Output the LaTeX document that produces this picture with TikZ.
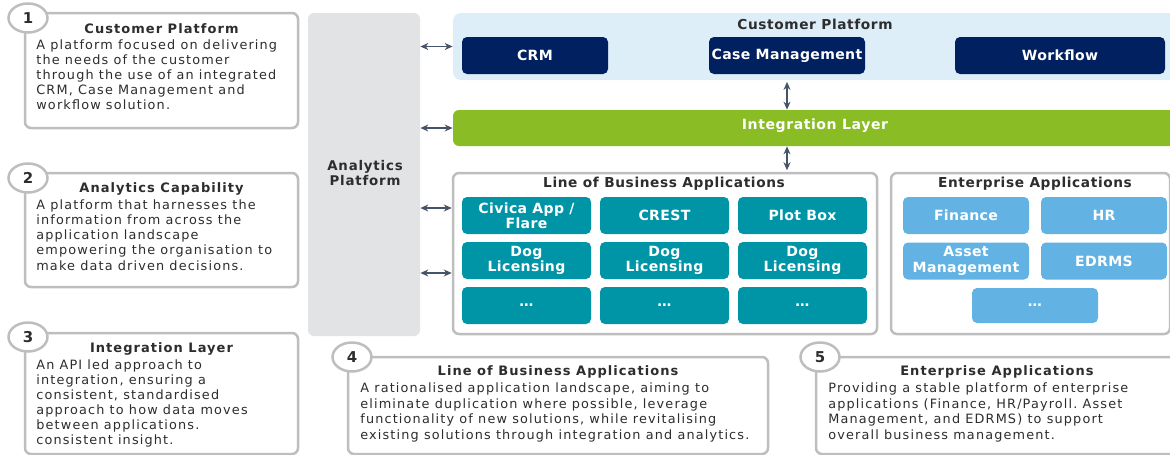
\documentclass[tikz,border=0pt]{standalone}
\usepackage{fontspec}
\setmainfont{DejaVu Sans}
\usetikzlibrary{shapes.geometric,arrows.meta}

\definecolor{navybox}{RGB}{0,32,96}
\definecolor{greenbar}{RGB}{138,188,38}
\definecolor{tealbox}{RGB}{0,149,166}
\definecolor{skybox}{RGB}{98,179,227}
\definecolor{custbg}{RGB}{221,238,249}
\definecolor{anagray}{RGB}{226,227,229}
\definecolor{framegray}{RGB}{190,190,190}
\definecolor{arrowgray}{RGB}{70,84,106}
\definecolor{textdark}{RGB}{45,45,45}

\newcommand\pxl{0.2mm}
\newcommand\spaced[1]{\addfontfeature{LetterSpace=#1}}

\begin{document}
\begin{tikzpicture}[
	x=0.2mm, y=-0.2mm,
	frame/.style={draw=framegray, line width=0.5mm, rounded corners=1.2mm, fill=white},
	numcirc/.style={ellipse, draw=framegray, line width=0.5mm, fill=white, minimum width=7.8mm, minimum height=5.8mm, inner sep=0pt, font=\fontsize{8.5}{10}\selectfont\bfseries, text=textdark},
	desctitle/.style={font=\fontsize{7.4}{8.5}\selectfont\bfseries\spaced{8}, text=textdark, inner sep=0pt},
	descbody/.style={font=\fontsize{7.3}{8.6}\selectfont\spaced{9}, text=textdark, align=left, inner sep=0pt, anchor=north west},
	apptitle/.style={font=\fontsize{7.8}{8.5}\selectfont\bfseries\spaced{4.5}, text=textdark, inner sep=0pt},
	appbody/.style={descbody, font=\fontsize{7.3}{8.9}\selectfont\spaced{9}},
	app/.style={rounded corners=1mm, minimum width=#1*\pxl, minimum height=37*\pxl, inner sep=0pt, align=center, text=white, font=\fontsize{8}{8.8}\selectfont\bfseries\spaced{2.5}},
	biarrow/.style={{Stealth[length=1.6mm,width=1.4mm]}-{Stealth[length=1.6mm,width=1.4mm]}, draw=arrowgray, line width=0.3mm}
	]
	\clip (0,0) rectangle (1170,455);
	
	% Analytics platform
	\node[fill=anagray, rounded corners=1.2mm, minimum width=112*\pxl, minimum height=323*\pxl, inner sep=0pt] (ana) at (364,174.5) {};
	\node[font=\fontsize{7.6}{9}\selectfont\bfseries\spaced{6}, text=textdark, align=center] (analbl) at (365,173) {Analytics\\Platform};
	
	% Customer platform
	\node[fill=custbg, rounded corners=1.6mm, minimum width=740*\pxl, minimum height=67*\pxl, inner sep=0pt] (cust) at (823,46.5) {};
	\node[apptitle] (custlbl) at (815,24) {Customer Platform};
	\node[app=146, fill=navybox] (crm) at (535,55.5) {CRM};
	\node[app=156, fill=navybox] (case) at (787,55.5) {Case Management};
	\node[app=210, fill=navybox] (wflow) at (1060,55.5) {Workflow};
	
	% Integration layer
	\node[fill=greenbar, rounded corners=1.2mm, minimum width=740*\pxl, minimum height=36*\pxl, inner sep=0pt] (integ) at (823,128) {};
	\node[text=white, font=\fontsize{8}{9}\selectfont\bfseries\spaced{4}] (integlbl) at (815,126) {Integration Layer};
	
	% Line of business applications
	\node[frame, minimum width=424*\pxl, minimum height=161*\pxl, inner sep=0pt] (lob) at (665,253.5) {};
	\node[apptitle] (loblbl) at (664,184) {Line of Business Applications};
	\foreach \lbl [count=\i] in {{Civica App /\\Flare}, CREST, Plot Box, {Dog\\Licensing}, {Dog\\Licensing}, {Dog\\Licensing}, \ldots, \ldots, \ldots} {
		\pgfmathsetmacro\cx{526.5 + 138*mod(\i-1,3)}
		\pgfmathsetmacro\cy{215.5 + 45*int((\i-1)/3)}
		\node[app=129, fill=tealbox] (lob\i) at (\cx,\cy) {\lbl};
	}
	
	% Enterprise applications
	\node[frame, minimum width=279*\pxl, minimum height=161*\pxl, inner sep=0pt] (ent) at (1030.5,253.5) {};
	\node[apptitle] (entlbl) at (1035,184) {Enterprise Applications};
	\node[app=126, fill=skybox] (ent1) at (966,215.5) {Finance};
	\node[app=126, fill=skybox] (ent2) at (1104,215.5) {HR};
	\node[app=126, fill=skybox] (ent3) at (966,261) {Asset\\Management};
	\node[app=126, fill=skybox] (ent4) at (1104,261) {EDRMS};
	\node[app=126, fill=skybox, minimum height=35*\pxl] (ent5) at (1035,305.5) {\ldots};
	
	% Connectors
	\draw[biarrow] (ana.east |- cust) -- (cust.west);
	\draw[biarrow] (ana.east |- integ) -- (integ.west);
	\draw[biarrow] (ana.east |- 0,208) -- (lob.west |- 0,208);
	\draw[biarrow] (ana.east |- 0,273) -- (lob.west |- 0,273);
	\draw[biarrow, shorten <=0.3mm] (case.south |- cust.south) -- (case.south |- integ.north);
	\draw[biarrow, shorten >=0.3mm] (case.south |- integ.south) -- (case.south |- lob.north);
	
	% Description 1
	\node[frame, minimum width=273*\pxl, minimum height=115*\pxl, inner sep=0pt] (desc1) at (161.5,70.5) {};
	\node[numcirc] (num1) at (28,18) {1};
	\node[desctitle] (d1title) at (161.5,28.5) {Customer Platform};
	\node[descbody] (d1body) at (36,39) {A platform focused on delivering\\the needs of the customer\\through the use of an integrated\\CRM, Case Management and\\workflow solution.};
	
	% Description 2
	\node[frame, minimum width=273*\pxl, minimum height=114*\pxl, inner sep=0pt] (desc2) at (161.5,230) {};
	\node[numcirc] (num2) at (28,178) {2};
	\node[desctitle] (d2title) at (161.5,188.5) {Analytics Capability};
	\node[descbody] (d2body) at (36,199.5) {A platform that harnesses the\\information from across the\\application landscape\\empowering the organisation to\\make data driven decisions.};
	
	% Description 3
	\node[frame, minimum width=273*\pxl, minimum height=121*\pxl, inner sep=0pt] (desc3) at (161.5,393.5) {};
	\node[numcirc] (num3) at (28,337) {3};
	\node[desctitle] (d3title) at (161.5,348.5) {Integration Layer};
	\node[descbody] (d3body) at (36,359) {An API led approach to\\integration, ensuring a\\consistent, standardised\\approach to how data moves\\between applications.\\consistent insight.};
	
	% Description 4
	\node[frame, minimum width=420*\pxl, minimum height=97*\pxl, inner sep=0pt] (desc4) at (558,405.5) {};
	\node[numcirc] (num4) at (352,357) {4};
	\node[desctitle] (d4title) at (558,371.5) {Line of Business Applications};
	\node[appbody] (d4body) at (360,382.5) {A rationalised application landscape, aiming to\\eliminate duplication where possible, leverage\\functionality of new solutions, while revitalising\\existing solutions through integration and analytics.};
	
	% Description 5
	\node[frame, minimum width=362*\pxl, minimum height=97*\pxl, inner sep=0pt] (desc5) at (997,405.5) {};
	\node[numcirc] (num5) at (820,357) {5};
	\node[desctitle] (d5title) at (997,371.5) {Enterprise Applications};
	\node[appbody] (d5body) at (828,382.5) {Providing a stable platform of enterprise\\applications (Finance, HR/Payroll.\ Asset\\Management, and EDRMS) to support\\overall business management.};
	
\end{tikzpicture}
\end{document}
